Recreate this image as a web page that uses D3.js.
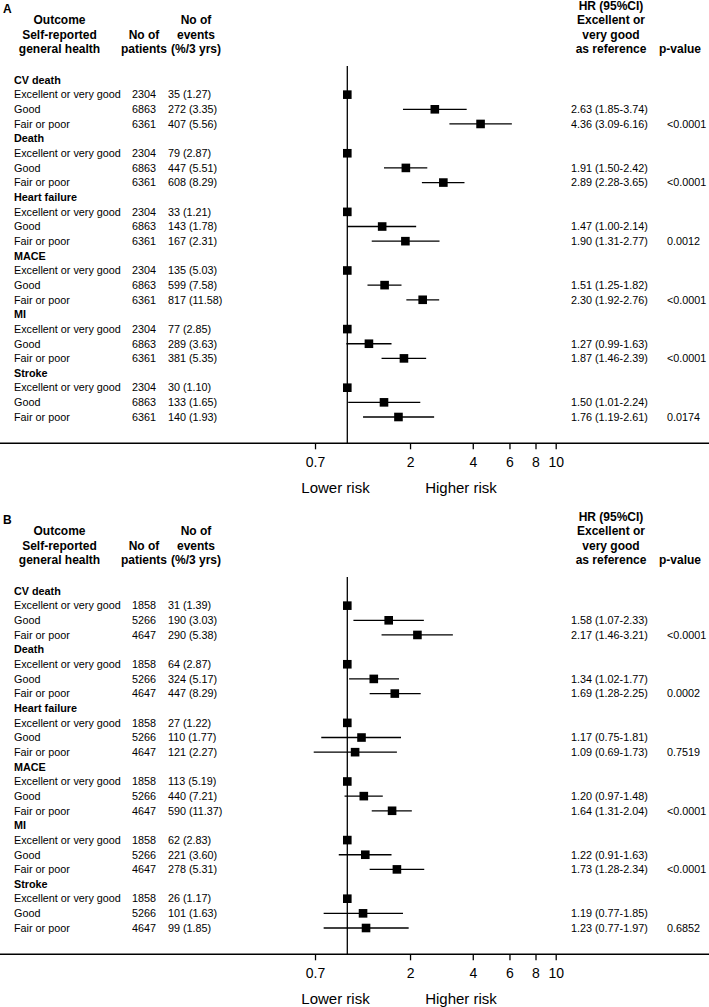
<!DOCTYPE html>
<html>
<head>
<meta charset="utf-8">
<script src="https://cdn.jsdelivr.net/npm/d3@7"></script>
<style>
  html, body { margin: 0; padding: 0; background: #fff; }
  svg { display: block; font-family: "Liberation Sans", Arial, Helvetica, sans-serif; }
</style>
</head>
<body>
<svg id="chart" width="709" height="1007"></svg>
<script>
// ---------- DATA ----------
const panelLabels = ["A", "B"];
const outcomes = ["CV death", "Death", "Heart failure", "MACE", "MI", "Stroke"];
const levels = ["Excellent or very good", "Good", "Fair or poor"];
const tickValues = [0.7, 2, 4, 6, 8, 10];
const riskLabels = ["Lower risk", "Higher risk"];

// Panel A
const patientsA = [2304, 6863, 6361];
const eventsA = [[35, 272, 407], [79, 447, 608], [33, 143, 167], [135, 599, 817], [77, 289, 381], [30, 133, 140]];
const eventPctA = [[1.27, 3.35, 5.56], [2.87, 5.51, 8.29], [1.21, 1.78, 2.31], [5.03, 7.58, 11.58], [2.85, 3.63, 5.35], [1.10, 1.65, 1.93]];
const hrA   = [[1, 2.63, 4.36], [1, 1.91, 2.89], [1, 1.47, 1.90], [1, 1.51, 2.30], [1, 1.27, 1.87], [1, 1.50, 1.76]];
const hrLoA = [[null, 1.85, 3.09], [null, 1.50, 2.28], [null, 1.00, 1.31], [null, 1.25, 1.92], [null, 0.99, 1.46], [null, 1.01, 1.19]];
const hrHiA = [[null, 3.74, 6.16], [null, 2.42, 3.65], [null, 2.14, 2.77], [null, 1.82, 2.76], [null, 1.63, 2.39], [null, 2.24, 2.61]];
const pValA = ["<0.0001", "<0.0001", "0.0012", "<0.0001", "<0.0001", "0.0174"];

// Panel B
const patientsB = [1858, 5266, 4647];
const eventsB = [[31, 190, 290], [64, 324, 447], [27, 110, 121], [113, 440, 590], [62, 221, 278], [26, 101, 99]];
const eventPctB = [[1.39, 3.03, 5.38], [2.87, 5.17, 8.29], [1.22, 1.77, 2.27], [5.19, 7.21, 11.37], [2.83, 3.60, 5.31], [1.17, 1.63, 1.85]];
const hrB   = [[1, 1.58, 2.17], [1, 1.34, 1.69], [1, 1.17, 1.09], [1, 1.20, 1.64], [1, 1.22, 1.73], [1, 1.19, 1.23]];
const hrLoB = [[null, 1.07, 1.46], [null, 1.02, 1.28], [null, 0.75, 0.69], [null, 0.97, 1.31], [null, 0.91, 1.28], [null, 0.77, 0.77]];
const hrHiB = [[null, 2.33, 3.21], [null, 1.77, 2.25], [null, 1.81, 1.73], [null, 1.48, 2.04], [null, 1.63, 2.34], [null, 1.85, 1.97]];
const pValB = ["<0.0001", "0.0002", "0.7519", "<0.0001", "<0.0001", "0.6852"];

// ---------- LAYOUT ----------
const W = 709;
const svg = d3.select("#chart");
svg.append("rect").attr("width", W).attr("height", 1007).attr("fill", "#fff");

const x = d3.scaleLog().domain([1, 10]).range([347.3, 555.7]);
const f2 = d3.format(".2f");
const nRows = outcomes.length * 4;

const panels = [
  { label: panelLabels[0], dy: 0, patients: patientsA, events: eventsA, pct: eventPctA, hr: hrA, lo: hrLoA, hi: hrHiA, p: pValA },
  { label: panelLabels[1], dy: 511, patients: patientsB, events: eventsB, pct: eventPctB, hr: hrB, lo: hrLoB, hi: hrHiB, p: pValB }
];

const ROW_FS = 10.8, HDR_FS = 12;

panels.forEach(P => {
  const g = svg.append("g").attr("transform", `translate(0,${P.dy})`);
  const y = d3.scalePoint().domain(d3.range(nRows)).range([80, 417]);
  const axisY = 443.3;

  // panel letter
  g.append("text").attr("x", 3).attr("y", 9).attr("dy", "0.35em")
    .attr("font-size", 12).attr("font-weight", "bold").text(P.label);

  // headers
  const hdr = (cx, cy, t, anchor) => g.append("text").attr("x", cx).attr("y", cy).attr("dy", "0.35em")
    .attr("text-anchor", anchor || "middle").attr("font-size", HDR_FS).attr("font-weight", "bold").text(t);
  ["Outcome", "Self-reported", "general health"].forEach((t, i) => hdr(59.5, 20 + i * 14.5, t));
  ["No of", "patients"].forEach((t, i) => hdr(144, 34.5 + i * 14.5, t));
  ["No of", "events", "(%/3 yrs)"].forEach((t, i) => hdr(196, 20 + i * 14.5, t));
  ["HR (95%CI)", "Excellent or", "very good", "as reference"].forEach((t, i) => hdr(611, 5.5 + i * 14.5, t));
  hdr(680, 49, "p-value");

  // rows
  const rows = [];
  outcomes.forEach((o, oi) => {
    rows.push({ type: "head", text: o, idx: oi * 4 });
    levels.forEach((lv, li) => {
      rows.push({
        type: "row", idx: oi * 4 + 1 + li, text: lv, li,
        patients: P.patients[li], events: P.events[oi][li], pct: P.pct[oi][li],
        hr: P.hr[oi][li], lo: P.lo[oi][li], hi: P.hi[oi][li],
        p: li === 2 ? P.p[oi] : null
      });
    });
  });

  const txt = (sel) => sel.attr("dy", "0.35em").attr("font-size", ROW_FS).attr("fill", "#000");

  g.selectAll("text.head").data(rows.filter(r => r.type === "head")).join("text")
    .attr("class", "head").attr("x", 14).attr("y", d => y(d.idx))
    .attr("font-weight", "bold").call(txt).text(d => d.text);

  const body = rows.filter(r => r.type === "row");
  g.selectAll("text.lbl").data(body).join("text").attr("class", "lbl")
    .attr("x", 14).attr("y", d => y(d.idx)).call(txt).text(d => d.text);
  g.selectAll("text.pat").data(body).join("text").attr("class", "pat")
    .attr("x", 132).attr("y", d => y(d.idx)).call(txt).text(d => d.patients);
  g.selectAll("text.evt").data(body).join("text").attr("class", "evt")
    .attr("x", 168).attr("y", d => y(d.idx)).call(txt).text(d => `${d.events} (${f2(d.pct)})`);
  g.selectAll("text.hr").data(body.filter(d => d.lo !== null)).join("text").attr("class", "hr")
    .attr("x", 571).attr("y", d => y(d.idx)).call(txt).text(d => `${f2(d.hr)} (${f2(d.lo)}-${f2(d.hi)})`);
  g.selectAll("text.pv").data(body.filter(d => d.p)).join("text").attr("class", "pv")
    .attr("x", 667).attr("y", d => y(d.idx)).call(txt).text(d => d.p);

  // reference line at HR = 1
  g.append("line").attr("x1", x(1)).attr("x2", x(1)).attr("y1", 66).attr("y2", axisY)
    .attr("stroke", "#000").attr("stroke-width", 1.3);

  // CIs
  g.selectAll("line.ci").data(body.filter(d => d.lo !== null)).join("line").attr("class", "ci")
    .attr("x1", d => x(d.lo)).attr("x2", d => x(d.hi))
    .attr("y1", d => y(d.idx)).attr("y2", d => y(d.idx))
    .attr("stroke", "#000").attr("stroke-width", 1.3);

  // squares
  const S = 8.6;
  g.selectAll("rect.pt").data(body).join("rect").attr("class", "pt")
    .attr("x", d => x(d.hr) - S / 2).attr("y", d => y(d.idx) - S / 2)
    .attr("width", S).attr("height", S).attr("fill", "#000");

  // axis
  g.append("line").attr("x1", 0).attr("x2", W).attr("y1", axisY).attr("y2", axisY)
    .attr("stroke", "#000").attr("stroke-width", 1.5);
  const ax = g.append("g").attr("transform", `translate(0,${axisY})`)
    .call(d3.axisBottom(x).tickValues(tickValues).tickFormat(d => d).tickSize(6).tickPadding(8));
  ax.select(".domain").remove();
  ax.selectAll(".tick line").attr("stroke", "#000").attr("stroke-width", 1.3);
  ax.selectAll(".tick text").attr("font-size", 14).attr("fill", "#000")
    .attr("font-family", "'Liberation Sans', Arial, sans-serif");

  g.append("text").attr("x", x(1) - 11.8).attr("y", axisY + 50).attr("text-anchor", "middle")
    .attr("font-size", 15).text(riskLabels[0]);
  g.append("text").attr("x", x(1) + 113.7).attr("y", axisY + 50).attr("text-anchor", "middle")
    .attr("font-size", 15).text(riskLabels[1]);
});
</script>
</body>
</html>
